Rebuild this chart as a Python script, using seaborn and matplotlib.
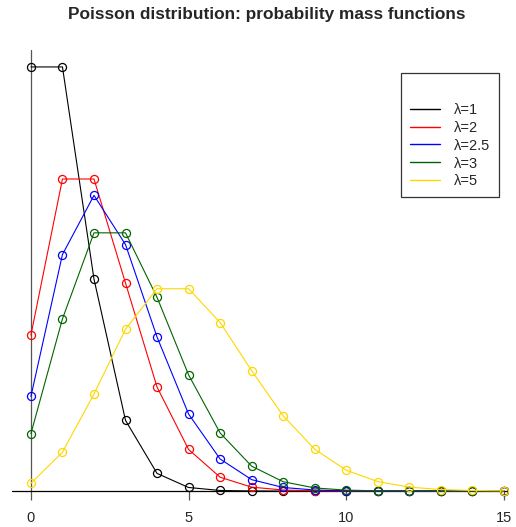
import numpy as np
import pandas as pd
import matplotlib
matplotlib.use("Agg")
import matplotlib.pyplot as plt
from matplotlib.lines import Line2D
import seaborn as sns

sns.set_style("white")
plt.rcParams['font.family'] = ['Liberation Sans', 'DejaVu Sans']

k = list(range(16))
labels = ["λ=1", "λ=2", "λ=2.5", "λ=3", "λ=5"]
colors = ["#000000", "#FF0000", "#0000FF", "#006400", "#FFD700"]
p_l1 = [0.3679, 0.3679, 0.1839, 0.0613, 0.0153, 0.0031, 0.0005, 0.0001,
        0.0000, 0.0000, 0.0000, 0.0000, 0.0000, 0.0000, 0.0000, 0.0000]
p_l2 = [0.1353, 0.2707, 0.2707, 0.1804, 0.0902, 0.0361, 0.0120, 0.0034,
        0.0009, 0.0002, 0.0000, 0.0000, 0.0000, 0.0000, 0.0000, 0.0000]
p_l25 = [0.0821, 0.2052, 0.2565, 0.2138, 0.1336, 0.0668, 0.0278, 0.0099,
         0.0031, 0.0009, 0.0002, 0.0000, 0.0000, 0.0000, 0.0000, 0.0000]
p_l3 = [0.0498, 0.1494, 0.2240, 0.2240, 0.1680, 0.1008, 0.0504, 0.0216,
        0.0081, 0.0027, 0.0008, 0.0002, 0.0001, 0.0000, 0.0000, 0.0000]
p_l5 = [0.0067, 0.0337, 0.0842, 0.1404, 0.1755, 0.1755, 0.1462, 0.1044,
        0.0653, 0.0363, 0.0181, 0.0082, 0.0034, 0.0013, 0.0005, 0.0002]
series = [p_l1, p_l2, p_l25, p_l3, p_l5]
xticks = [0, 5, 10, 15]

W, H = 516, 527
fig = plt.figure(figsize=(W / 100, H / 100), dpi=100)
ax = fig.add_axes([12 / W, (H - 508) / H, (508 - 12) / W, (508 - 50) / H])

ylo, yhi = -0.0147, 0.3826
ax.set_xlim(-0.6, 15.13)
ax.set_ylim(ylo, yhi)

ax.axvline(0, ymin=(0 - ylo) / (yhi - ylo), ymax=1, color="#555555", lw=0.9, zorder=1)
ax.axhline(0, color="black", lw=0.9, zorder=1)

for vals, c, lab in zip(series, colors, labels):
    df = pd.DataFrame({"k": k, "p": vals})
    sns.lineplot(data=df, x="k", y="p", ax=ax, color=c, lw=0.8,
                 marker="o", markersize=5.8, markerfacecolor="none",
                 markeredgecolor=c, markeredgewidth=0.9, legend=False, zorder=3)

for s in ax.spines.values():
    s.set_visible(False)
ax.spines["bottom"].set_position(("data", 0))
ax.set_xticks(xticks)
ax.set_xticklabels([str(t) for t in xticks])
ax.set_yticks([])
ax.set_xlabel("")
ax.set_ylabel("")
ax.tick_params(axis="x", bottom=True, direction="out", length=6.5, width=0.9,
               color="#555555", labelsize=10.5, pad=8)

fig.text(267 / W, 1 - 15 / H, "Poisson distribution: probability mass functions",
         fontsize=12.4, fontweight="bold", ha="center", va="center")

handles = [Line2D([], [], color=c, lw=1.0) for c in colors]
leg = ax.legend(handles, labels, loc="upper left",
                bbox_to_anchor=((401 - 12) / (508 - 12), 1 - (73 - 50) / (508 - 50)),
                title=" ", title_fontsize=14, fontsize=10.5, frameon=True, fancybox=False,
                edgecolor="black", handlelength=2.1, handletextpad=0.9,
                labelspacing=0.27, borderpad=0.6, borderaxespad=0)
leg.get_frame().set_linewidth(0.9)

fig.savefig("out.png", dpi=100)
